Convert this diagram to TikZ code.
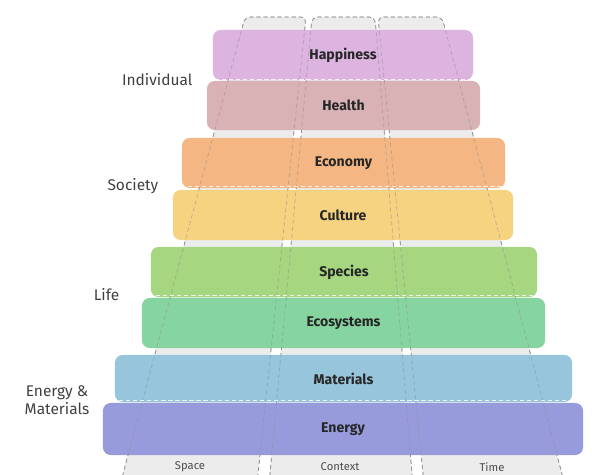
\documentclass[tikz,border=0pt]{standalone}
\usepackage{fontspec}
\setmainfont{Fira Sans}
\usetikzlibrary{positioning,calc}

\definecolor{happycol}{HTML}{DDB3E0}
\definecolor{healthcol}{HTML}{D9B2B5}
\definecolor{econcol}{HTML}{F4B783}
\definecolor{culturecol}{HTML}{F6D381}
\definecolor{speciescol}{HTML}{A7D681}
\definecolor{ecocol}{HTML}{86D4A0}
\definecolor{matcol}{HTML}{96C5DC}
\definecolor{energycol}{HTML}{979BDB}
\definecolor{colfill}{HTML}{ECECEC}
\definecolor{colline}{HTML}{8F8F8F}

\tikzset{band/.style={fill=#1, rounded corners=5.5pt, inner sep=0pt,
    text=black!85, font=\bfseries\fontsize{10}{11.5}\selectfont}}
\tikzstyle{column} = [fill=colfill, draw=colline, dashed, dash pattern=on 3pt off 2pt,
    line width=0.5pt, rounded corners=4pt]
\tikzstyle{colover} = [draw=colline, dashed, dash pattern=on 3pt off 2pt,
    line width=0.5pt, opacity=0.55, rounded corners=4pt]
\tikzstyle{group} = [anchor=east, align=center, text=black!75,
    font=\fontsize{11}{12.5}\selectfont, inner sep=1pt]
\tikzstyle{sepline} = [draw=white, dashed, dash pattern=on 3pt off 2pt,
    line width=0.5pt, opacity=0.8]
\tikzstyle{axis} = [text=black!70, font=\fontsize{8}{9.5}\selectfont, inner sep=1pt]

\begin{document}
\begin{tikzpicture}[x=0.025cm, y=-0.025cm]
\useasboundingbox (0,0) rectangle (592,474);

	% three columns behind the bands
	\draw[column] (118.7,490) -- (245,17) -- (306,17) -- (256.3,490);
	\draw[column] (268.5,490) -- (312,17) -- (375,17) -- (413.3,490);
	\draw[column] (424.6,490) -- (378,17) -- (442,17) -- (566.2,490);

	% bands
	\node[band=happycol, minimum width=6.5cm, minimum height=1.25cm] (happy) at (343,55) {Happiness};
	\node[band=healthcol, minimum width=6.825cm, minimum height=1.225cm] (health) at (343.5,105.5) {Health};
	\node[band=econcol, minimum width=8.075cm, minimum height=1.25cm] (econ) at (343.5,163) {Economy};
	\node[band=culturecol, minimum width=8.5cm, minimum height=1.25cm] (culture) at (343,215) {Culture};
	\node[band=speciescol, minimum width=9.65cm, minimum height=1.25cm] (species) at (344,272) {Species};
	\node[band=ecocol, minimum width=10.075cm, minimum height=1.25cm] (eco) at (343.5,323) {Ecosystems};
	\node[band=matcol, minimum width=11.425cm, minimum height=1.175cm] (mat) at (343.5,378.5) {Materials};
	\node[band=energycol, minimum width=12cm, minimum height=1.3cm] (energy) at (343,429) {Energy};

	% column edges seen through the bands
	\draw[colover] (118.7,490) -- (245,17) -- (306,17) -- (256.3,490);
	\draw[colover] (268.5,490) -- (312,17) -- (375,17) -- (413.3,490);
	\draw[colover] (424.6,490) -- (378,17) -- (442,17) -- (566.2,490);

	% groups on the left
	\node[group] (indiv) at (194,79.5) {Individual};
	\node[group] (society) at (160,186) {Society};
	\node[group] (life) at (121,295) {Life};
	\node[group] (enmat) at (91,400) {Energy \&\\Materials};

	\draw[sepline] (indiv.east) -- (indiv.east -| health.east);
	\draw[sepline] (society.east) -- (society.east -| culture.east);
	\draw[sepline] (life.east) -- (life.east -| eco.east);
	\draw[sepline] (enmat.east) -- (enmat.east -| energy.east);

	% column names
	\node[axis] (space) at (190,467) {Space};
	\node[axis] (context) at (340,467) {Context};
	\node[axis] (time) at (492,467) {Time};
\end{tikzpicture}
\end{document}
